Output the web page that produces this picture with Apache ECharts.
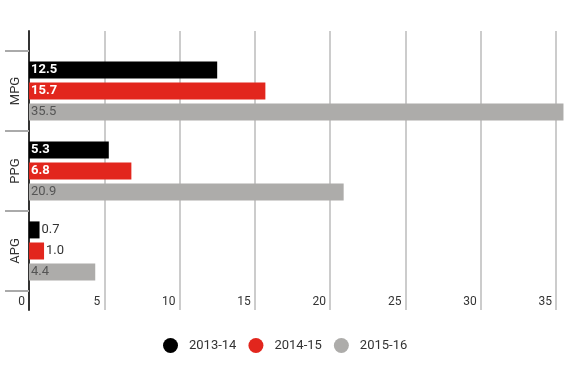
<!DOCTYPE html>
<html>
<head>
<meta charset="utf-8">
<script src="https://cdn.jsdelivr.net/npm/echarts@6/dist/echarts.min.js"></script>
<style>html,body{margin:0;padding:0;background:#fff}#c{width:581px;height:365px}</style>
</head>
<body>
<div id="c"></div>
<script>
const categories = ['MPG', 'PPG', 'APG'];
const seriesNames = ['2013-14', '2014-15', '2015-16'];
const values2013 = [12.5, 5.3, 0.7];
const values2014 = [15.7, 6.8, 1.0];
const values2015 = [35.5, 20.9, 4.4];
const xTicks = [0, 5, 10, 15, 20, 25, 30, 35];

const colors = ['#000000', '#e2261d', '#adacaa'];
const allValues = [values2013, values2014, values2015];
const FONT = 'Roboto, "Noto Sans", sans-serif';

function makeData(vals) {
  return vals.map(v => {
    if (v < 2) {
      return { value: v, label: { position: 'right', distance: 2, color: '#333', fontWeight: 'normal' } };
    }
    return { value: v };
  });
}

const series = seriesNames.map((name, i) => ({
  name: name,
  type: 'bar',
  xAxisIndex: 0,
  yAxisIndex: 0,
  barWidth: 17,
  barGap: '24%',
  itemStyle: { color: colors[i] },
  label: {
    show: true,
    position: 'insideLeft',
    distance: 2,
    fontFamily: FONT,
    fontSize: 13,
    color: i === 2 ? '#555' : '#fff',
    fontWeight: i === 2 ? 'normal' : 'bold',
    formatter: p => p.value.toFixed(1)
  },
  data: makeData(allValues[i])
}));

const chart = echarts.init(document.getElementById('c'));
chart.setOption({
  animation: false,
  textStyle: { fontFamily: FONT },
  legend: {
    data: seriesNames,
    top: 333,
    left: 158,
    icon: 'circle',
    itemWidth: 15,
    itemHeight: 15,
    itemGap: 12,
    textStyle: { fontFamily: FONT, fontSize: 13, color: '#333', padding: [0, 0, 0, 6] }
  },
  grid: [
    { left: 29, right: 10, top: 51, bottom: 74 },
    { left: 29, right: 10, top: 31, bottom: 55 }
  ],
  xAxis: [
    {
      gridIndex: 0, type: 'value', min: 0, max: 36, interval: 5,
      axisLine: { show: false }, axisTick: { show: false }, splitLine: { show: false },
      axisLabel: {
        showMaxLabel: false, align: 'right', margin: 5, padding: [0, 4, 0, 0],
        fontFamily: FONT, fontSize: 12, color: '#333',
        formatter: v => (xTicks.indexOf(v) >= 0 ? String(v) : '')
      }
    },
    {
      gridIndex: 1, type: 'value', min: 0, max: 36, interval: 5,
      axisLine: { show: false }, axisTick: { show: false }, axisLabel: { show: false },
      splitLine: { show: true, showMaxLine: false, lineStyle: { color: '#cccccc', width: 2 } }
    }
  ],
  yAxis: [
    {
      gridIndex: 0, type: 'category', data: categories, inverse: true,
      axisLine: { show: false },
      axisTick: { show: true, length: 24, lineStyle: { color: '#aaaaaa', width: 2 } },
      axisLabel: { rotate: 90, margin: 7, fontFamily: FONT, fontSize: 13, color: '#333' }
    },
    {
      gridIndex: 1, type: 'value', min: 0, max: 1,
      axisLine: { show: true, lineStyle: { color: '#333333', width: 2 } },
      axisTick: { show: false }, axisLabel: { show: false }, splitLine: { show: false }
    }
  ],
  series: series
});
</script>
</body>
</html>
